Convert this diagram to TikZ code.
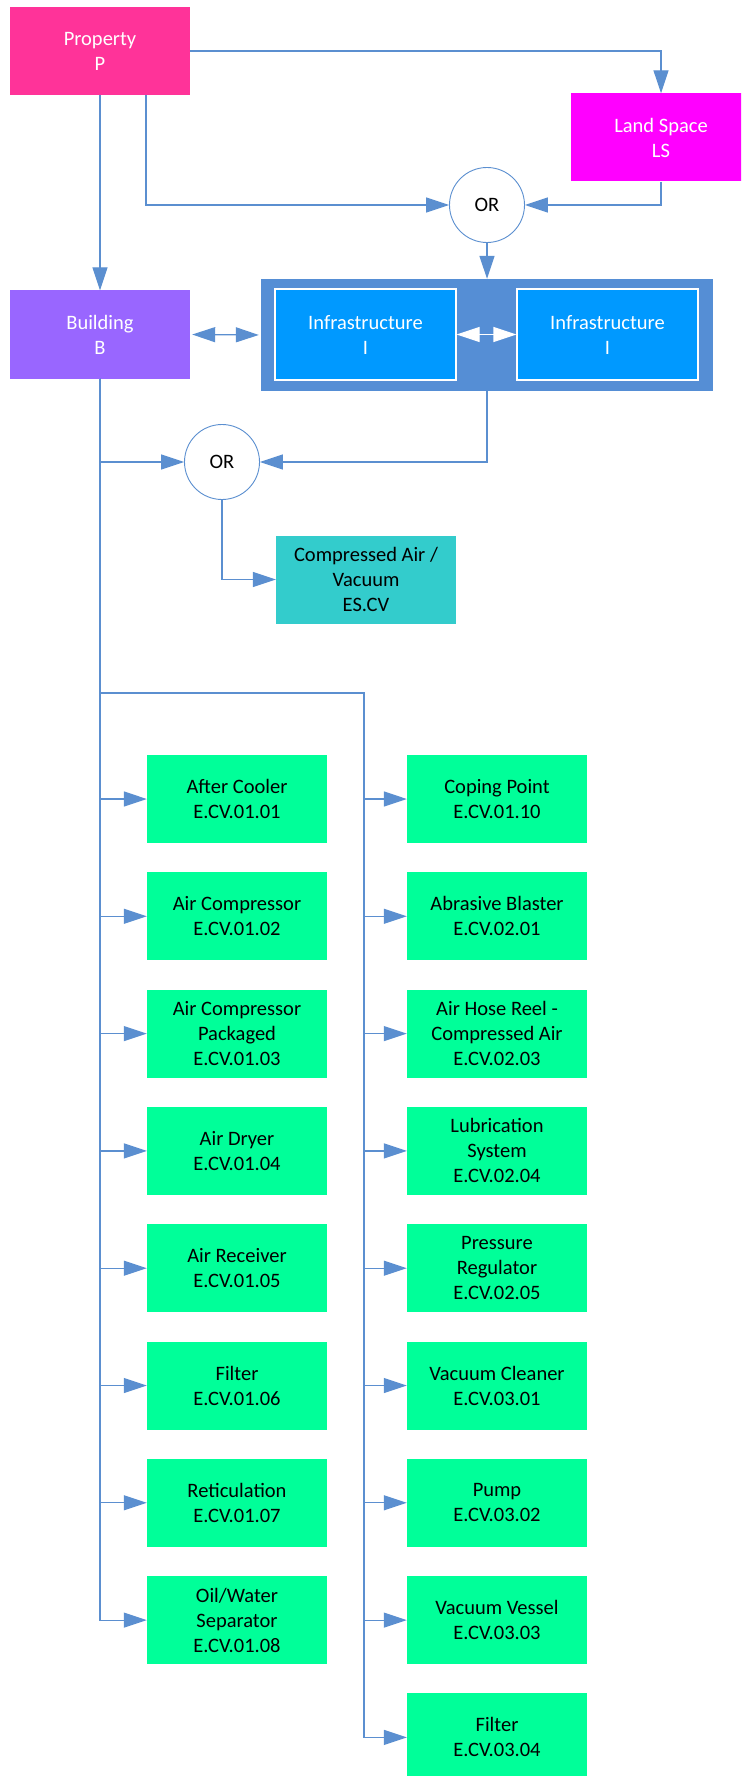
\documentclass[tikz,border=0pt]{standalone}
\usepackage{fontspec}
\setmainfont{Carlito}
\usetikzlibrary{arrows.meta}
\definecolor{lineblue}{RGB}{91,143,208}
\definecolor{contblue}{RGB}{85,142,213}
\definecolor{propc}{RGB}{255,51,153}
\definecolor{lsc}{RGB}{255,0,255}
\definecolor{bldc}{RGB}{153,102,255}
\definecolor{infc}{RGB}{0,153,255}
\definecolor{esc}{RGB}{51,204,204}
\definecolor{grn}{RGB}{0,255,153}
\begin{document}
\begin{tikzpicture}[x=1pt,y=-1pt,
  box/.style={rectangle, minimum width=180pt, minimum height=88pt, inner sep=0pt, align=center, font=\fontsize{20.5}{25}\selectfont},
  wbox/.style={box, text=white},
  gbox/.style={box, fill=grn},
  orc/.style={circle, draw=lineblue, line width=0.9pt, fill=white, minimum size=75pt, inner sep=0pt, font=\fontsize{20.5}{25}\selectfont},
  tip/.tip={Triangle[length=23pt,width=15pt]},
  conn/.style={draw=lineblue, line width=1.2pt, -tip},
  dconn/.style={draw=lineblue, line width=1.2pt, tip-tip},
]
\path[use as bounding box] (0,0) rectangle (741,1776);
\clip (0,0) rectangle (741,1776);

% top nodes
\node[wbox, fill=propc] (P) at (100,51) {Property\\P};
\node[wbox, fill=lsc] (LS) at (661,137.5) {Land Space\\LS};
\node[orc] (or1) at (487,205) {OR};
\node[wbox, fill=bldc] (B) at (100,334.5) {Building\\B};
\node[rectangle, fill=contblue, minimum width=452pt, minimum height=112pt, inner sep=0pt] (cont) at (487,335) {};
\node[wbox, fill=infc, draw=white, line width=1.2pt, minimum width=181pt, minimum height=91pt] (I1) at (365.5,334.5) {Infrastructure\\I};
\node[wbox, fill=infc, draw=white, line width=1.2pt, minimum width=181pt, minimum height=91pt] (I2) at (607.5,334.5) {Infrastructure\\I};
\node[orc] (or2) at (222,462) {OR};
\node[box, fill=esc] (ES) at (366,579.5) {Compressed Air /\\Vacuum\\ES.CV};

% top connectors
\draw[conn] (P.east) -| (LS.north);
\draw[conn] ([xshift=46pt]P.south) |- (or1.west);
\draw[conn] (LS.south) |- (or1.east);
\draw[conn] (or1.south) -- (cont.north);
\draw[conn] (P.south) -- (B.north);
\draw[dconn, shorten <=2pt, shorten >=2pt] (B.east) -- (cont.west);
\draw[draw=white, fill=white, line width=1.2pt, {Triangle[length=23pt,width=15pt,fill=white]}-{Triangle[length=23pt,width=15pt,fill=white]}] (I1.east) -- (I2.west);
\draw[conn] (cont.south) |- (or2.east);
\draw[conn] (B.south) |- (or2.west);
\draw[conn] (or2.south) |- (ES.west);

% lower boxes
\coordinate (j) at (364,693);
\node[gbox] (a1) at (237,799) {After Cooler\\E.CV.01.01};
\node[gbox] (a2) at (237,916.3) {Air Compressor\\E.CV.01.02};
\node[gbox] (a3) at (237,1033.6) {Air Compressor\\Packaged\\E.CV.01.03};
\node[gbox] (a4) at (237,1150.9) {Air Dryer\\E.CV.01.04};
\node[gbox] (a5) at (237,1268.2) {Air Receiver\\E.CV.01.05};
\node[gbox] (a6) at (237,1385.5) {Filter\\E.CV.01.06};
\node[gbox] (a7) at (237,1502.8) {Reticulation\\E.CV.01.07};
\node[gbox] (a8) at (237,1620.1) {Oil/Water\\Separator\\E.CV.01.08};

\node[gbox] (b1) at (497,799) {Coping Point\\E.CV.01.10};
\node[gbox] (b2) at (497,916.3) {Abrasive Blaster\\E.CV.02.01};
\node[gbox] (b3) at (497,1033.6) {Air Hose Reel -\\Compressed Air\\E.CV.02.03};
\node[gbox] (b4) at (497,1150.9) {Lubrication\\System\\E.CV.02.04};
\node[gbox] (b5) at (497,1268.2) {Pressure\\Regulator\\E.CV.02.05};
\node[gbox] (b6) at (497,1385.5) {Vacuum Cleaner\\E.CV.03.01};
\node[gbox] (b7) at (497,1502.8) {Pump\\E.CV.03.02};
\node[gbox] (b8) at (497,1620.1) {Vacuum Vessel\\E.CV.03.03};
\node[gbox] (b9) at (497,1737.4) {Filter\\E.CV.03.04};

\foreach \n in {a1,a2,a3,a4,a5,a6,a7,a8}
  \draw[conn] (B.south) |- (\n.west);
\foreach \n in {b1,b2,b3,b4,b5,b6,b7,b8,b9}
  \draw[conn] (B.south) |- (j) -- (j |- \n.west) -- (\n.west);
\end{tikzpicture}
\end{document}
